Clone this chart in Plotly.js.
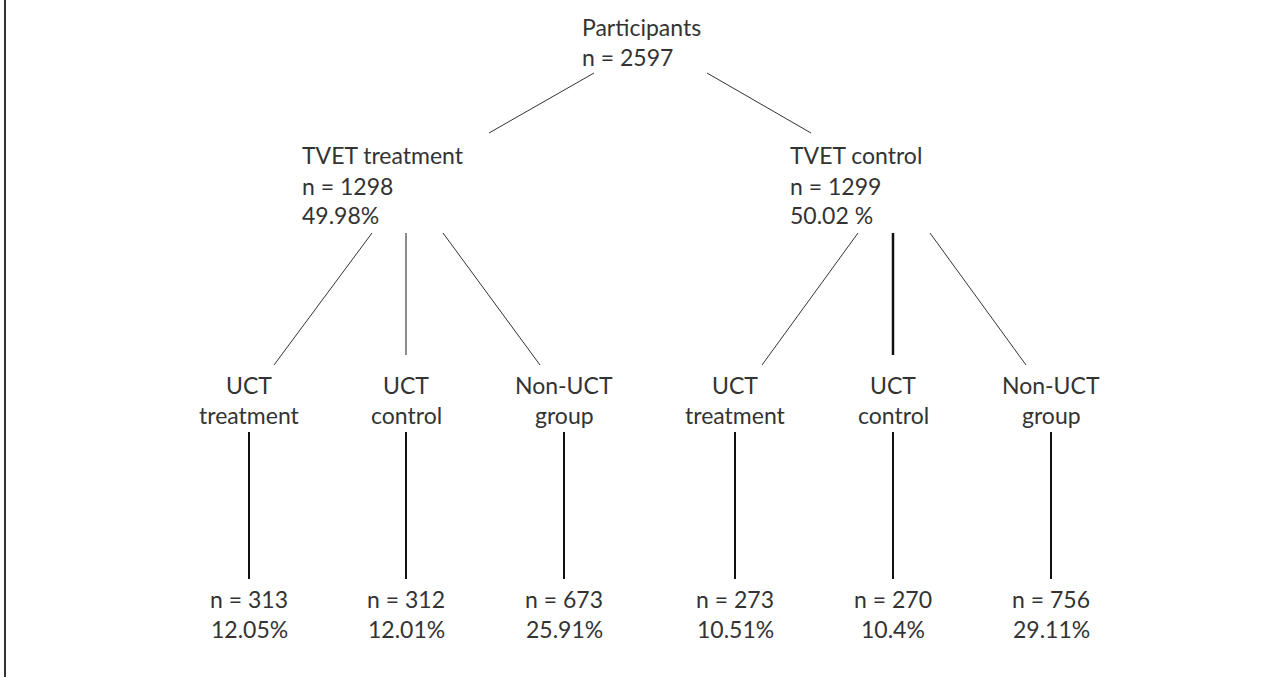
<!DOCTYPE html>
<html>
<head>
<meta charset="utf-8">
<script src="https://cdn.plot.ly/plotly-3.0.1.min.js"></script>
<style>html,body{margin:0;padding:0;background:#fff;}#chart{width:1284px;height:677px;}</style>
</head>
<body>
<div id="chart"></div>
<script>
// ---------- data ----------
const rootLabel = 'Participants';
const rootN = 2597;
const armLabels = ['TVET treatment', 'TVET control'];
const armN = [1298, 1299];
const armPct = ['49.98%', '50.02 %'];
const groupTitle = ['UCT', 'UCT', 'Non-UCT', 'UCT', 'UCT', 'Non-UCT'];
const groupSub = ['treatment', 'control', 'group', 'treatment', 'control', 'group'];
const groupArm = [0, 0, 0, 1, 1, 1];
const groupN = [313, 312, 673, 273, 270, 756];
const groupPct = ['12.05%', '12.01%', '25.91%', '10.51%', '10.4%', '29.11%'];

// ---------- layout geometry (pixel-space axes) ----------
const G = {
  rootX: 580, rootY: [27, 57],
  rootOut: [[594, 73], [707, 73]],
  armX: [300, 788], armY: [155, 186, 215],
  armIn: [[489, 133], [811, 133]],
  armOutY: 233,
  armOutX: [372, 406, 443, 858, 893, 930],
  leafX: [249, 406, 564, 735, 893, 1051],
  leafIn: [[274, 365], [406, 355], [540, 365], [762, 365], [893, 355], [1026, 365]],
  leafY: [385, 415],
  stemY: [432, 579],
  countY: [599, 629]
};
const STYLE = {
  font: 'Lato, "Open Sans", sans-serif', size: 23, color: '#333',
  thin: {color: '#333', width: 1},
  midW: [1.5, 2.5],
  midC: ['#666', '#111'],
  stem: {color: '#111', width: 2}
};

const traces = [];
function seg(x0, y0, x1, y1, line) {
  traces.push({x: [x0, x1], y: [y0, y1], mode: 'lines', line: line, hoverinfo: 'skip', showlegend: false, type: 'scatter'});
}
for (let a = 0; a < armLabels.length; a++) {
  seg(G.rootOut[a][0], G.rootOut[a][1], G.armIn[a][0], G.armIn[a][1], STYLE.thin);
}
for (let g = 0; g < groupN.length; g++) {
  const isMid = (g % 3 === 1);
  const a = groupArm[g];
  const line = isMid ? {color: STYLE.midC[a], width: STYLE.midW[a]} : STYLE.thin;
  seg(G.armOutX[g], G.armOutY, G.leafIn[g][0], G.leafIn[g][1], line);
  seg(G.leafX[g], G.stemY[0], G.leafX[g], G.stemY[1], STYLE.stem);
}

const ann = [];
function txt(x, y, t, anchor) {
  ann.push({x: x, y: y, xref: 'x', yref: 'y', text: t, showarrow: false, xanchor: anchor, yanchor: 'middle',
    font: {family: STYLE.font, size: STYLE.size, color: STYLE.color}});
}
txt(G.rootX, G.rootY[0], rootLabel, 'left');
txt(G.rootX, G.rootY[1], 'n = ' + rootN, 'left');
for (let a = 0; a < armLabels.length; a++) {
  txt(G.armX[a], G.armY[0], armLabels[a], 'left');
  txt(G.armX[a], G.armY[1], 'n = ' + armN[a], 'left');
  txt(G.armX[a], G.armY[2], armPct[a], 'left');
}
for (let g = 0; g < groupN.length; g++) {
  txt(G.leafX[g], G.leafY[0], groupTitle[g], 'center');
  txt(G.leafX[g], G.leafY[1], groupSub[g], 'center');
  txt(G.leafX[g], G.countY[0], 'n = ' + groupN[g], 'center');
  txt(G.leafX[g], G.countY[1], groupPct[g], 'center');
}

const layout = {
  width: 1284, height: 677,
  margin: {l: 0, r: 0, t: 0, b: 0},
  paper_bgcolor: '#fff', plot_bgcolor: '#fff',
  xaxis: {range: [0, 1284], visible: false, fixedrange: true},
  yaxis: {range: [677, 0], visible: false, fixedrange: true},
  showlegend: false,
  annotations: ann,
  shapes: [{type: 'line', xref: 'paper', yref: 'paper', x0: 0.0039, x1: 0.0039, y0: 0, y1: 1,
    line: {color: '#333', width: 2}}]
};
Plotly.newPlot('chart', traces, layout, {displayModeBar: false, staticPlot: true});
</script>
</body>
</html>
